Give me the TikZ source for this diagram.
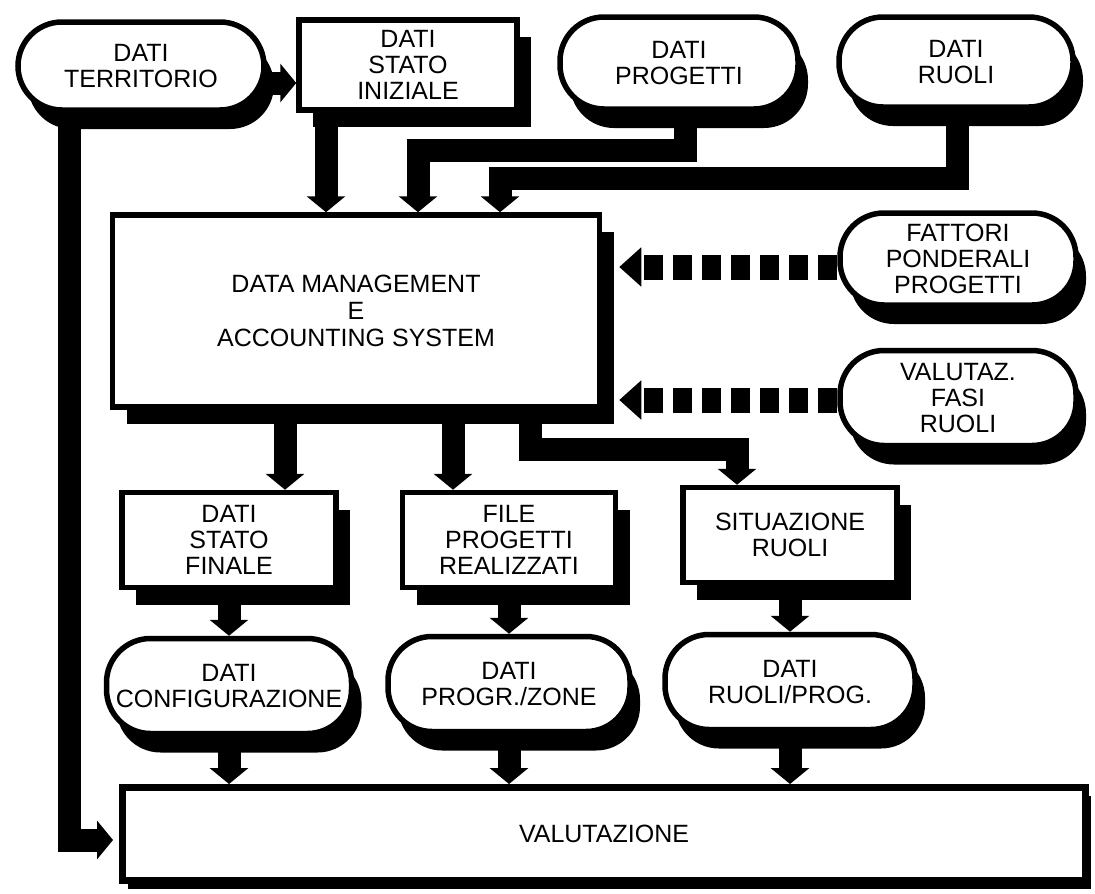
\documentclass[tikz,border=0pt]{standalone}
\usepackage{fontspec}
\setmainfont{Liberation Sans}
\usetikzlibrary{arrows.meta,shadows}
\begin{document}
\begin{tikzpicture}[x=1pt,y=-1pt,
  base/.style={draw=black, line width=5.5pt, fill=white, align=center, inner sep=0pt,
    font=\fontsize{25}{26}\selectfont},
  rbox/.style={base, drop shadow={shadow xshift=14pt, shadow yshift=-17pt, opacity=1, fill=black}},
  pbox/.style={base, rounded corners=44pt, drop shadow={shadow xshift=10pt, shadow yshift=-19pt, opacity=1, fill=black}},
  vbox/.style={base, line width=7pt, drop shadow={shadow xshift=5pt, shadow yshift=-8pt, opacity=1, fill=black}},
  bar/.style={draw=black, line width=23pt, line join=miter, -{Triangle[length=16pt,width=38pt]}},
  dbar/.style={draw=black, line width=25pt, dash pattern=on 19pt off 10pt, -{Triangle[length=22pt,width=38pt]}}
]
\useasboundingbox (0,0) rectangle (1095,894);

% nodes
\node[pbox, minimum width=246pt, minimum height=88pt] (terr) at (141,66) {DATI\\TERRITORIO};
\node[rbox, minimum width=218pt, minimum height=90pt] (stato) at (408,65) {DATI\\STATO\\INIZIALE};
\node[pbox, minimum width=238pt, minimum height=92pt] (prog) at (679,63) {DATI\\PROGETTI};
\node[pbox, minimum width=234pt, minimum height=90pt] (ruoli) at (956,62) {DATI\\RUOLI};
\node[rbox, minimum width=487pt, minimum height=192pt, font=\fontsize{25}{27}\selectfont] (dmas) at (356,311) {DATA MANAGEMENT\\E\\ACCOUNTING SYSTEM};
\node[pbox, minimum width=236pt, minimum height=92pt] (fatt) at (958,259) {FATTORI\\PONDERALI\\PROGETTI};
\node[pbox, minimum width=236pt, minimum height=95pt] (valz) at (958,398) {VALUTAZ.\\FASI\\RUOLI};
\node[rbox, minimum width=214pt, minimum height=95pt] (sfin) at (229,540) {DATI\\STATO\\FINALE};
\node[rbox, minimum width=213pt, minimum height=95pt] (file) at (509,540) {FILE\\PROGETTI\\REALIZZATI};
\node[rbox, minimum width=214pt, minimum height=95pt] (sit) at (790,535) {SITUAZIONE\\RUOLI};
\node[pbox, minimum width=245pt, minimum height=95pt] (conf) at (229,686) {DATI\\CONFIGURAZIONE};
\node[pbox, minimum width=242pt, minimum height=95pt] (pz) at (509,684) {DATI\\PROGR./ZONE};
\node[pbox, minimum width=250pt, minimum height=95pt] (rp) at (790,682) {DATI\\RUOLI/PROG.};
\node[vbox, minimum width=963pt, minimum height=93pt] (val) at (604,834) {VALUTAZIONE};

% helper coordinates
\coordinate (h2) at (0,150);
\coordinate (h3) at (0,178);
\coordinate (h4) at (0,449);

% territorio -> stato iniziale
\coordinate (t1) at ([yshift=-17pt]terr.east);
\draw[bar] (t1) -- (t1 -| stato.west);

% top inputs into DMAS
\coordinate (a1) at ([xshift=-30pt]dmas.north);
\draw[bar] (a1 |- stato.south) -- (a1);
\coordinate (a2) at ([xshift=62pt]dmas.north);
\draw[bar] ([xshift=6pt]prog.south) |- (a2 |- h2) -- (a2);
\coordinate (a3) at ([xshift=144pt]dmas.north);
\draw[bar] ([xshift=1pt]ruoli.south) |- (a3 |- h3) -- (a3);

% dashed inputs
\coordinate (e1) at ([xshift=17pt]dmas.east);
\coordinate (f1) at ([yshift=-8pt]fatt.west);
\draw[dbar] (f1) -- (f1 -| e1);
\coordinate (f2) at ([yshift=-2pt]valz.west);
\draw[dbar] (f2) -- (f2 -| e1);

% DMAS outputs
\coordinate (b1) at ([xshift=-71pt]dmas.south);
\draw[bar] (b1) -- (b1 |- sfin.north);
\coordinate (b2) at ([xshift=97pt]dmas.south);
\draw[bar] (b2) -- (b2 |- file.north);
\coordinate (b3) at ([xshift=174pt]dmas.south);
\coordinate (s3) at ([xshift=-53pt]sit.north);
\draw[bar] (b3) |- (s3 |- h4) -- (s3);

% row 2 -> row 3
\draw[bar] (sfin.south) -- (conf.north);
\draw[bar] (file.south) -- (pz.north);
\draw[bar] (sit.south) -- (rp.north);

% row 3 -> valutazione
\draw[bar] (conf.south) -- (conf.south |- val.north);
\draw[bar] (pz.south) -- (pz.south |- val.north);
\draw[bar] (rp.south) -- (rp.south |- val.north);

% territorio -> valutazione
\coordinate (t2) at ([xshift=-72pt]terr.south);
\coordinate (v1) at ([yshift=-6pt,xshift=-6pt]val.west);
\draw[bar] (t2) |- (v1);
\end{tikzpicture}
\end{document}
